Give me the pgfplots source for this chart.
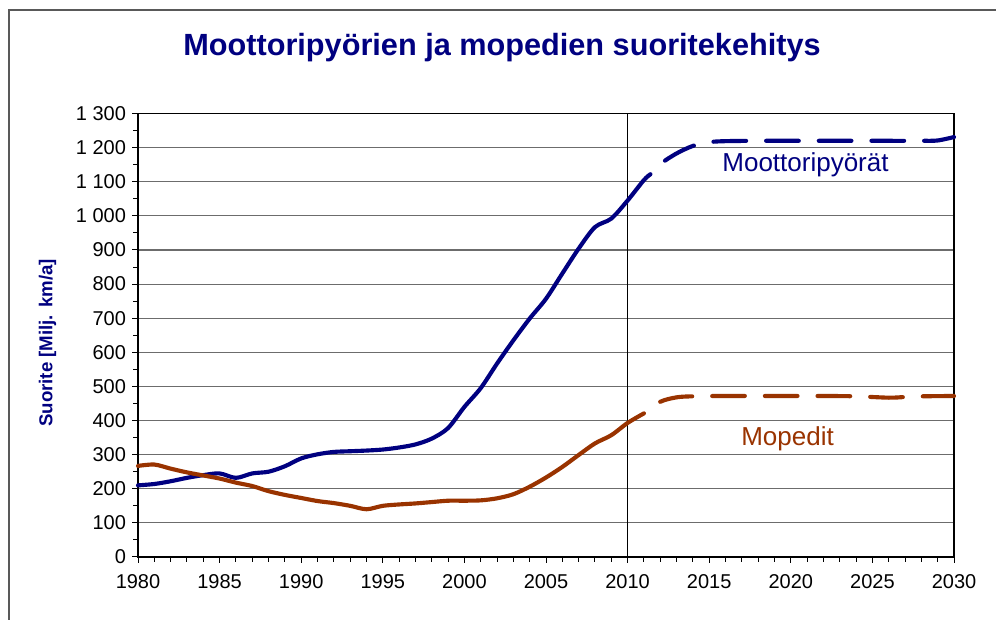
\documentclass[border=0pt]{standalone}
\usepackage{fontspec}
\setmainfont{Liberation Sans}
\usepackage{pgfplots}
\pgfplotsset{compat=1.18}
\definecolor{navyc}{RGB}{0,0,128}
\definecolor{brownc}{RGB}{153,51,0}
\begin{document}
\begin{tikzpicture}
\useasboundingbox (0,0) rectangle (747pt,465pt);
\draw[gray!70!black, line width=0.8pt] (6.75pt,0) -- (6.75pt,457.5pt) -- (747pt,457.5pt);
\node[font=\fontsize{23}{27}\selectfont\bfseries, text=navyc] at (376.5pt,429.5pt) {Moottoripyörien ja mopedien suoritekehitys};
\node[font=\fontsize{14}{16}\selectfont\bfseries, text=navyc, rotate=90] at (35.6pt,207.75pt) {Suorite [Milj. km/a]};
\begin{axis}[
  at={(103.5pt,47.25pt)}, anchor=south west,
  scale only axis, width=612pt, height=332.6pt,
  xmin=1980, xmax=2030, ymin=0, ymax=1300,
  xtick={1980,1985,...,2030},
  xticklabels={1980,1985,1990,1995,2000,2005,2010,2015,2020,2025,2030},
  minor x tick num=4,
  ytick={0,100,...,1300},
  yticklabels={0,100,200,300,400,500,600,700,800,900,1 000,1 100,1 200,1 300},
  minor y tick num=1,
  tick align=outside,
  major tick length=4.5pt, minor tick length=3.4pt,
  xtick pos=left, ytick pos=left,
  ymajorgrids,
  grid style={gray!85!black, line width=0.8pt},
  axis line style={black, line width=1pt},
  tick style={black, line width=0.75pt},
  tick label style={font=\fontsize{15}{17}\selectfont},
  xticklabel style={yshift=-5pt},
  yticklabel style={xshift=-1pt},
  clip=false,
]
\addplot[black, line width=0.9pt] coordinates {(2010,0) (2010,1300)};
% Moottoripyörät, toteutunut
\addplot[navyc, line width=3.1pt, smooth, line cap=round] coordinates {
(1980,210) (1981,214) (1982,222) (1983,232) (1984,240) (1985,245) (1986,232)
(1987,245) (1988,250) (1989,266) (1990,289) (1991,301) (1992,308) (1993,310)
(1994,312) (1995,315) (1996,321) (1997,330) (1998,347) (1999,378) (2000,440)
(2001,495) (2002,567) (2003,635) (2004,699) (2005,757) (2006,831) (2007,904)
(2008,967) (2009,992) (2010,1045) (2011,1105) (2011.4,1122)};
% Moottoripyörät, ennuste
\addplot[navyc, line width=3.1pt, smooth, line cap=round, dash pattern=on 24.5pt off 15pt, dash phase=24.5pt] coordinates {
(2011.4,1122) (2012,1152) (2013,1183) (2014,1205) (2015,1216) (2016,1219) (2018,1220)
(2020,1220) (2022,1220) (2024,1220) (2026,1220) (2028,1220) (2029,1221) (2030,1231)};
% Mopedit, toteutunut
\addplot[brownc, line width=3.1pt, smooth, line cap=round] coordinates {
(1980,267) (1981,271) (1982,259) (1983,248) (1984,239) (1985,230) (1986,218)
(1987,208) (1988,193) (1989,182) (1990,173) (1991,164) (1992,158) (1993,150)
(1994,140) (1995,150) (1996,154) (1997,157) (1998,161) (1999,165) (2000,165)
(2001,166) (2002,172) (2003,184) (2004,206) (2005,233) (2006,264) (2007,299)
(2008,333) (2009,357) (2010,393) (2011,421)};
% Mopedit, ennuste
\addplot[brownc, line width=3.1pt, smooth, line cap=round, dash pattern=on 24.5pt off 15pt, dash phase=24.5pt] coordinates {
(2011,421) (2012,455) (2013,468) (2014,471) (2016,472) (2018,472) (2020,472)
(2022,472) (2024,471) (2026,467) (2027,469) (2028,471) (2030,472)};
\node[font=\fontsize{19.5}{22}\selectfont, text=navyc] at (axis cs:2020.9,1151) {Moottoripyörät};
\node[font=\fontsize{19.5}{22}\selectfont, text=brownc] at (axis cs:2019.8,348) {Mopedit};
\end{axis}
\end{tikzpicture}
\end{document}
